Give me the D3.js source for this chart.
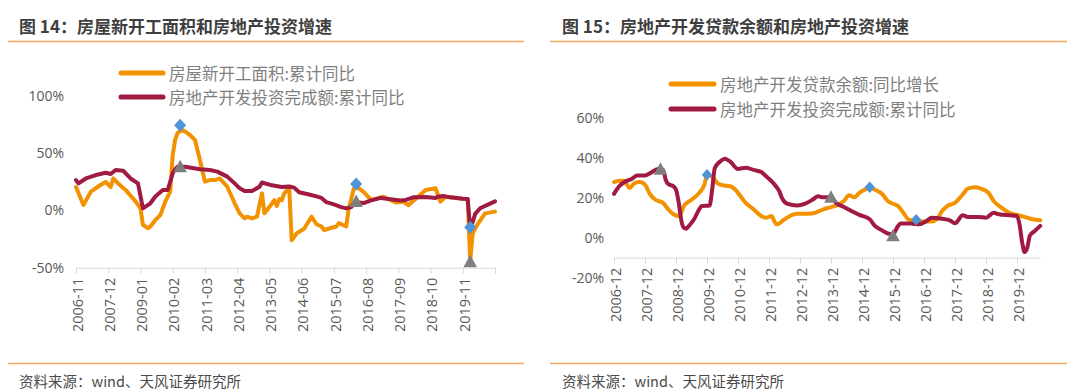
<!DOCTYPE html>
<html><head><meta charset="utf-8">
<script src="https://cdn.jsdelivr.net/npm/d3@7"></script>
<style>
html,body{margin:0;padding:0;background:#fff;}
svg{display:block;}
</style></head>
<body>
<svg id="c" width="1080" height="392"></svg>
<script>
// ---------- Chart 14 data ----------
const leftTitle = "图 14：房屋新开工面积和房地产投资增速";
const leftLegend = ["房屋新开工面积:累计同比", "房地产开发投资完成额:累计同比"];
const leftTickLabels = ["2006-11","2007-12","2009-01","2010-02","2011-03","2012-04","2013-05","2014-06","2015-07","2016-08","2017-09","2018-10","2019-11","2020-12"];
const leftYTicks = [-50, 0, 50, 100];
const startsDates = ["2006-11","2007-02","2007-05","2007-09","2007-11","2008-01","2008-02","2008-04","2008-07","2008-11","2009-01","2009-02","2009-04","2009-05","2009-07","2009-09","2009-11","2010-01","2010-02","2010-03","2010-04","2010-06","2010-09","2010-11","2011-01","2011-03","2011-05","2011-07","2011-09","2011-12","2012-03","2012-05","2012-07","2012-08","2012-10","2012-12","2013-02","2013-03","2013-05","2013-07","2013-08","2013-09","2013-10","2013-11","2014-01","2014-02","2014-04","2014-07","2014-10","2014-12","2015-02","2015-03","2015-08","2015-09","2015-12","2016-01","2016-02","2016-03","2016-04","2016-07","2016-10","2017-03","2017-08","2017-11","2018-01","2018-04","2018-08","2018-12","2019-02","2019-04","2019-11","2020-01","2020-02","2020-03","2020-05","2020-08","2020-12"];
const startsValues = [20.5,4.8,16.5,22.5,25,20.5,28,23.7,18,8,2,-12.6,-15.5,-14,-8.3,-4,7.7,16.5,48.5,62,68,70.4,66,61.6,44,25.2,26.6,26.6,28,20.8,6.3,-2.5,-6.9,-5.4,-6.9,-5.4,15,-2.5,3,9,4,10,9,15,20,-26,-20,-16,-5.4,-12,-14,-17,-14,-11,-14,2,10,19,21,16.3,9.2,12,7,7.7,4.7,10,17.9,19.4,7.7,12,10.3,10,-44,-20,-12,-2.5,-1];
const investLDates = ["2006-11","2006-12","2007-03","2007-07","2007-11","2008-01","2008-03","2008-06","2008-09","2008-12","2009-02","2009-05","2009-07","2009-10","2009-12","2010-02","2010-03","2010-04","2010-07","2011-01","2011-05","2011-08","2011-12","2012-03","2012-05","2012-07","2012-10","2013-01","2013-02","2013-06","2013-10","2014-01","2014-03","2014-05","2014-09","2014-12","2015-02","2015-04","2015-07","2015-10","2015-12","2016-02","2016-03","2016-04","2016-07","2016-10","2017-02","2017-05","2017-10","2017-12","2018-03","2018-08","2018-12","2019-01","2019-03","2019-06","2019-11","2020-01","2020-02","2020-03","2020-04","2020-06","2020-10","2020-12"];
const investLValues = [26.5,23.7,28,31,33,31.9,35.4,34.8,28,23.7,1.9,6.3,12.2,17.9,17.9,32.5,36,38.3,38.3,36,35.4,34,29.6,23.7,19.4,17,17,20.8,24.5,22,20.5,21,20,16,14,12.3,11,7.3,5.3,3,1.9,3,6.2,7.2,6.5,8.8,11,10,8.8,9.2,11.5,11.7,11,12,12.7,11.5,10.3,10,-16,-10,-3,2,6,8];
const leftDiamondDates = ["2010-05","2016-04","2020-02"];
const leftDiamondValues = [74.6, 23.2, -14.7];
const leftTriangleDates = ["2010-05","2016-04","2020-02"];
const leftTriangleValues = [38.3, 7.8, -44.7];

// ---------- Chart 15 data ----------
const rightTitle = "图 15：房地产开发贷款余额和房地产投资增速";
const rightLegend = ["房地产开发贷款余额:同比增长", "房地产开发投资完成额:累计同比"];
const rightTickLabels = ["2006-12","2007-12","2008-12","2009-12","2010-12","2011-12","2012-12","2013-12","2014-12","2015-12","2016-12","2017-12","2018-12","2019-12"];
const rightYTicks = [-20, 0, 20, 40, 60];
const loanDates = ["2006-12","2007-02","2007-04","2007-06","2007-08","2007-10","2007-12","2008-02","2008-04","2008-07","2008-09","2008-11","2009-01","2009-02","2009-03","2009-06","2009-09","2009-11","2009-12","2010-02","2010-04","2010-06","2010-09","2010-11","2011-01","2011-03","2011-06","2011-09","2011-11","2012-01","2012-02","2012-03","2012-06","2012-09","2012-11","2013-03","2013-06","2013-09","2013-12","2014-03","2014-05","2014-07","2014-09","2014-11","2015-03","2015-05","2015-08","2015-10","2015-12","2016-02","2016-04","2016-06","2016-09","2016-11","2017-03","2017-05","2017-07","2017-09","2017-12","2018-03","2018-05","2018-08","2018-10","2019-01","2019-03","2019-06","2019-09","2019-12","2020-03","2020-06","2020-09"];
const loanValues = [27.8,28.5,28.5,24.9,27.3,27.8,26.5,21.6,19,17.4,14.2,11.7,10.9,12.5,15.8,19,22.4,26.5,31.4,30.6,27.3,26.2,25.7,24,20.7,17.4,14.2,10.9,10,10.9,8.4,6.7,9.2,11.4,12,12,12.5,14.2,15.3,16.6,18.3,21.2,20.2,22.4,24.9,24,21.6,18.3,17,15.8,12.5,9.2,8.4,8.1,8.1,9.2,13.3,15.8,17.4,21.6,24.5,25.2,24.5,22.4,18.3,15,12.5,11.4,10.4,9.2,8.7];
const investRDates = ["2006-12","2007-02","2007-04","2007-07","2007-09","2007-12","2008-02","2008-05","2008-07","2008-08","2008-09","2008-11","2008-12","2009-01","2009-02","2009-03","2009-04","2009-05","2009-07","2009-09","2009-10","2010-01","2010-02","2010-03","2010-05","2010-07","2010-09","2010-12","2011-03","2011-06","2011-09","2011-11","2012-02","2012-04","2012-05","2012-07","2012-11","2013-02","2013-05","2013-07","2013-09","2013-12","2014-02","2014-05","2014-08","2014-11","2015-03","2015-05","2015-08","2015-10","2015-12","2016-02","2016-03","2016-07","2016-10","2017-01","2017-03","2017-07","2017-10","2017-12","2018-03","2018-05","2018-09","2018-12","2019-03","2019-05","2019-09","2019-12","2020-01","2020-02","2020-03","2020-04","2020-05","2020-07","2020-09"];
const investRValues = [21.9,25.7,27.8,29.5,31.1,31.1,32.3,34.4,33.9,29,26.8,25.7,24,18,9,5,4.5,5.9,9.2,14.2,15.8,16.1,24,34.7,38,39.5,38,34.4,35,33.9,32.8,30.6,26.8,23.2,19.9,17,16.1,17,19.1,20.7,20.2,20.2,17.4,15.3,13.3,11.4,9.2,5.9,3.5,2.1,1.8,5.9,7.1,7.1,6.7,8.4,10,9.5,8.7,7.2,11.2,10.4,10.4,10,12.5,11.7,11.2,10.9,6.7,-2.3,-7.2,-5,1,3.5,5.9];
const rightDiamondDates = ["2009-12","2015-03","2016-09"];
const rightDiamondValues = [31.5, 25.2, 9];
const rightTriangleDates = ["2008-06","2013-12","2015-12"];
const rightTriangleValues = [34.2, 20.2, 1];

const sourceText = "资料来源：wind、天风证券研究所";

// ---------- styles ----------
const ORANGE = "#F39200", RED = "#A01A42", BLUE = "#4F93D8", GRAY = "#7F7F7F";
const CJK = "'Noto Sans CJK SC', 'Noto Sans', sans-serif";
const NUM = "'Open Sans', 'Noto Sans', sans-serif";

const mi = s => { const [y, m] = s.split("-").map(Number); return y * 12 + (m - 1); };
const svg = d3.select("#c");

function panel(o) {
  const g = svg.append("g");
  // title
  g.append("text").attr("x", o.titleX).attr("y", 25).attr("dominant-baseline", "central")
    .attr("font-family", CJK).attr("font-weight", "bold").attr("font-size", 17).attr("fill", "#3f3f3f")
    .text(o.title);
  g.append("line").attr("x1", o.sepX1).attr("x2", o.sepX2).attr("y1", 41.5).attr("y2", 41.5)
    .attr("stroke", "#F6A860").attr("stroke-width", 1.5);
  g.append("line").attr("x1", o.sepX1).attr("x2", o.sepX2).attr("y1", 363.5).attr("y2", 363.5)
    .attr("stroke", "#F6A860").attr("stroke-width", 1.5);
  g.append("text").attr("x", o.titleX).attr("y", 380.5).attr("dominant-baseline", "central")
    .attr("font-family", CJK).attr("font-size", 14.5).attr("fill", "#4a4a4a").text(sourceText);

  const x = d3.scaleLinear().domain(o.xDomain.map(mi)).range(o.xRange);
  const y = d3.scaleLinear().domain(o.yDomain).range(o.yRange);

  // y labels
  const ya = g.append("g").attr("transform", `translate(${o.xRange[0]},0)`)
    .call(d3.axisLeft(y).tickValues(o.yTicks).tickSize(0).tickPadding(o.yPad).tickFormat(d => d + "%"));
  ya.select(".domain").remove();
  ya.selectAll("text").attr("font-family", NUM).attr("font-size", 14).attr("fill", "#595959");

  // x axis
  const xa = g.append("g").attr("transform", `translate(0,${y(o.axisAt)})`)
    .call(d3.axisBottom(x).tickValues(o.ticks.map(mi)).tickSize(6).tickSizeOuter(0)
      .tickFormat((d, i) => o.tickShown[i] ? o.ticks[i] : ""));
  xa.select(".domain").attr("stroke", "#d9d9d9");
  xa.selectAll(".tick line").attr("stroke", "#d9d9d9");
  xa.selectAll("text").attr("transform", "rotate(-90)").attr("text-anchor", "end")
    .attr("x", -10).attr("y", 1).attr("dy", "0.36em")
    .attr("font-family", NUM).attr("font-size", 14.5).attr("fill", "#595959");

  // lines
  const line = (dates, vals) => d3.line().curve(o.curve)
    .x((d, i) => x(mi(dates[i]))).y((d, i) => y(vals[i]))(vals);
  o.series.forEach(s => {
    g.append("path").attr("d", line(s.dates, s.values)).attr("fill", "none")
      .attr("stroke", s.color).attr("stroke-width", 4).attr("stroke-linejoin", "round").attr("stroke-linecap", "round");
  });

  // markers
  o.diamonds.dates.forEach((dt, i) => {
    const cx = x(mi(dt)), cy = y(o.diamonds.values[i]), w = o.dW, h = o.dH;
    g.append("path").attr("d", `M${cx},${cy - h}L${cx + w},${cy}L${cx},${cy + h}L${cx - w},${cy}Z`).attr("fill", BLUE);
  });
  o.triangles.dates.forEach((dt, i) => {
    const cx = x(mi(dt)), cy = y(o.triangles.values[i]);
    g.append("path").attr("d", `M${cx},${cy - 7}L${cx + 6.8},${cy + 5.5}L${cx - 6.8},${cy + 5.5}Z`).attr("fill", GRAY);
  });

  // legend
  o.legend.forEach((t, i) => {
    const ly = o.legY[i];
    g.append("line").attr("x1", o.legX[0]).attr("x2", o.legX[1]).attr("y1", ly).attr("y2", ly)
      .attr("stroke", o.series[i].color).attr("stroke-width", 5).attr("stroke-linecap", "round");
    g.append("text").attr("x", o.legX[1] + 6).attr("y", ly).attr("dominant-baseline", "central")
      .attr("font-family", CJK).attr("font-size", 16.5).attr("fill", "#7f7f7f").text(t);
  });
}

panel({
  title: leftTitle, titleX: 19, sepX1: 8, sepX2: 524,
  xDomain: ["2006-11", "2020-12"], xRange: [76, 495],
  yDomain: [-50, 100], yRange: [267.7, 96.1], yTicks: leftYTicks, yPad: 12, axisAt: -50,
  ticks: leftTickLabels, tickShown: leftTickLabels.map((d, i) => i < leftTickLabels.length - 1),
  curve: d3.curveLinear,
  series: [{dates: startsDates, values: startsValues, color: ORANGE}, {dates: investLDates, values: investLValues, color: RED}],
  diamonds: {dates: leftDiamondDates, values: leftDiamondValues}, dW: 6, dH: 6.5,
  triangles: {dates: leftTriangleDates, values: leftTriangleValues},
  legend: leftLegend, legX: [121, 163], legY: [73, 97]
});

panel({
  title: rightTitle, titleX: 562, sepX1: 550, sepX2: 1067,
  xDomain: ["2006-12", "2020-09"], xRange: [614, 1040.2],
  yDomain: [-20, 60], yRange: [277.7, 117.7], yTicks: rightYTicks, yPad: 10, axisAt: -10,
  ticks: rightTickLabels, tickShown: rightTickLabels.map(() => true),
  curve: d3.curveMonotoneX,
  series: [{dates: loanDates, values: loanValues, color: ORANGE}, {dates: investRDates, values: investRValues, color: RED}],
  diamonds: {dates: rightDiamondDates, values: rightDiamondValues}, dW: 5.2, dH: 5.8,
  triangles: {dates: rightTriangleDates, values: rightTriangleValues},
  legend: rightLegend, legX: [671, 714], legY: [84, 109]
});
</script>
</body></html>
